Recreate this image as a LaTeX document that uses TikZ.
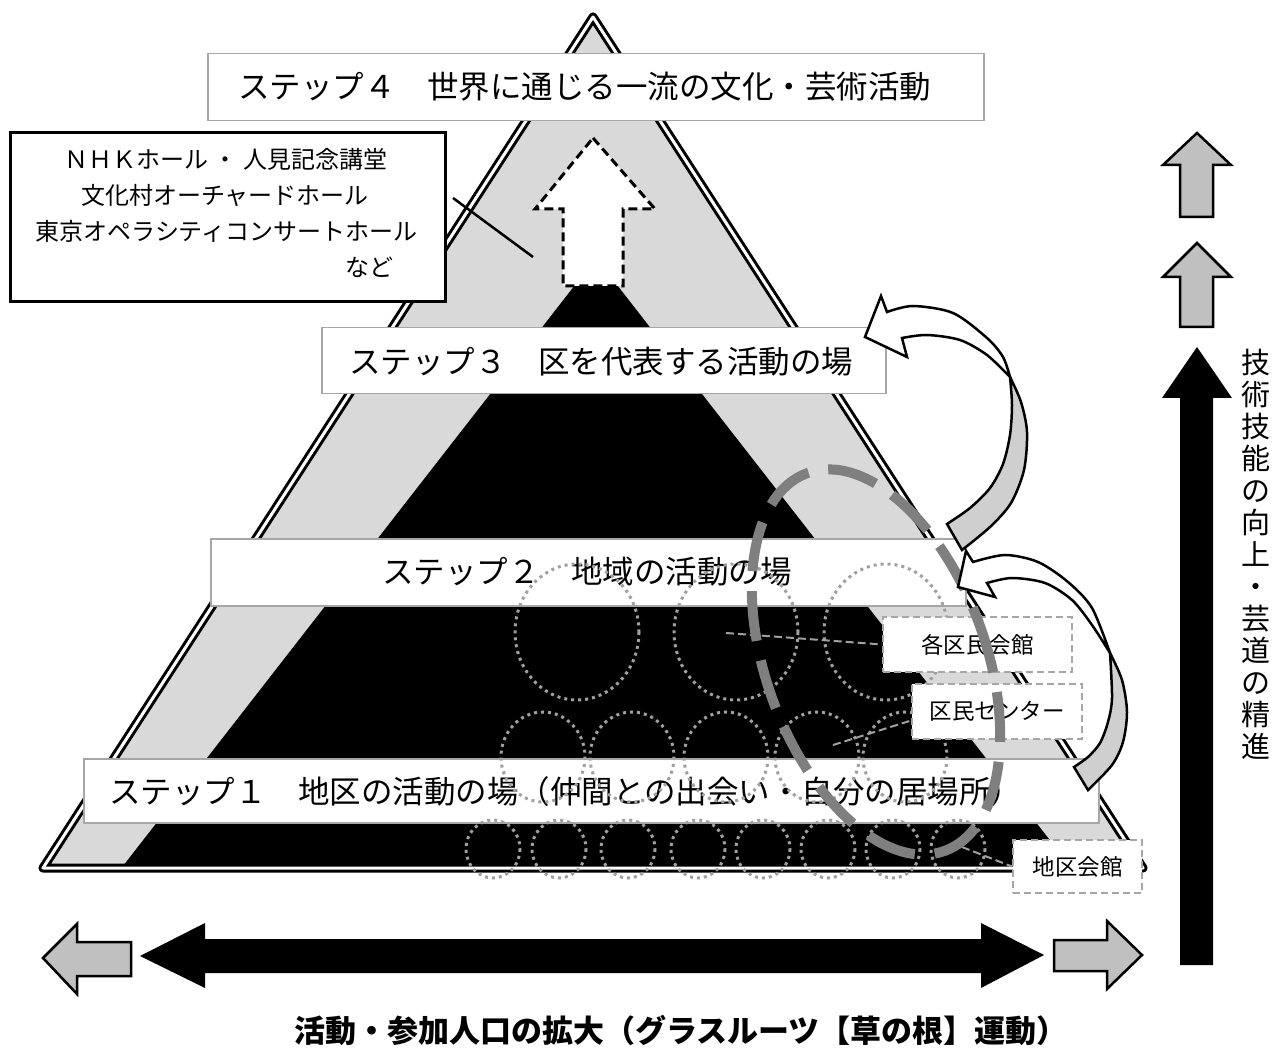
\documentclass[tikz,border=0pt]{standalone}
\usepackage{fontspec}
\setmainfont{Noto Sans CJK JP}
\definecolor{trigray}{HTML}{D9D9D9}
\definecolor{boxgray}{HTML}{A6A6A6}
\definecolor{arrgray}{HTML}{C0C0C0}
\definecolor{ellgray}{HTML}{7F7F7F}
\definecolor{dotgray}{HTML}{A0A0A0}
\definecolor{curvgray}{HTML}{CFCFCF}
\begin{document}
\begin{tikzpicture}[x=1pt,y=-1pt,
  stepbox/.style={draw=boxgray, line width=1.5pt, fill=white, inner sep=0pt},
  steptext/.style={inner sep=0pt, anchor=west, font=\fontsize{31.5}{36}\selectfont, text height=27.5pt, text depth=4pt},
  dotc/.style={draw=dotgray, line width=3pt, dash pattern=on 3pt off 4pt},
  lblbox/.style={draw=boxgray, line width=2pt, dash pattern=on 7pt off 4pt, fill=white, font=\fontsize{22.5}{26}\selectfont, inner sep=0pt},
  ptr/.style={draw=dotgray, line width=2pt, dash pattern=on 8pt off 4pt},
  curvarr/.style={draw=black, line width=2.5pt, line join=miter},
  blockarr/.style={draw=black, line width=2.5pt, fill=arrgray, line join=miter},
  nhkt/.style={inner sep=0pt, font=\fontsize{24}{28}\selectfont, text height=21pt, text depth=3pt}
]
\useasboundingbox (0,0) rectangle (1286,1048);
\fill[white] (0,0) rectangle (1286,1048);

% pyramid
\coordinate (apex) at (593,17);
\coordinate (bl) at (43,868);
\coordinate (br) at (1143,868);
\fill[trigray] (apex) -- (bl) -- (br) -- cycle;
\fill[black] (596,258) -- (123,866) -- (1070,866) -- cycle;
\draw[line width=9pt, line join=round] (apex) -- (bl) -- (br) -- cycle;
\draw[white, line width=3pt, line join=round] (apex) -- (bl) -- (br) -- cycle;

% dashed white arrow
\draw[fill=white, draw=black, line width=3pt, dash pattern=on 9pt off 5pt]
  (593,138) -- (655,209) -- (623,209) -- (623,286) -- (563,286) -- (563,209) -- (535,209) -- cycle;

% step boxes
\node[stepbox, anchor=north west, minimum width=776pt, minimum height=67pt] (s4box) at (207,53) {};
\node[steptext] (s4) at (238,87) {ステップ４　世界に通じる一流の文化・芸術活動};
\node[stepbox, anchor=north west, minimum width=564pt, minimum height=66pt] (s3box) at (321,327) {};
\node[steptext] (s3) at (349,362) {ステップ３　区を代表する活動の場};
\node[stepbox, anchor=north west, minimum width=755pt, minimum height=67pt] (s2box) at (210,538) {};
\node[steptext] (s2) at (382,572) {ステップ２　地域の活動の場};
\node[stepbox, anchor=north west, minimum width=1015pt, minimum height=64pt] (s1box) at (83,758) {};
\node[steptext] (s1) at (109,792) {ステップ１　地区の活動の場（仲間との出会い・自分の居場所）};

% dotted circles
\foreach \cx in {577,736,886} \draw[dotc] (\cx,632) ellipse [x radius=62, y radius=68];
\foreach \cx in {543,632,726,817,905} \draw[dotc] (\cx,757) ellipse [x radius=42, y radius=45];
\foreach \cx in {493,559,628,698,763,828,893,958} \draw[dotc] (\cx,849) ellipse [x radius=27, y radius=29];

% label boxes and pointer lines
\node[lblbox, minimum width=189pt, minimum height=55pt] (k1) at (977.5,644.5) {各区民会館};
\node[lblbox, minimum width=170pt, minimum height=55pt] (k2) at (997,711.5) {区民センター};
\node[lblbox, minimum width=129pt, minimum height=53pt] (k3) at (1077.5,866.5) {地区会館};
\coordinate (q1) at (726,633);
\coordinate (q2) at (833,745);
\coordinate (q3) at (962,847);
\draw[ptr] (q1) -- (k1.west);
\draw[ptr] (q2) -- (k2.186);
\draw[ptr] (q3) -- (k3.west);

% gray dashed ellipse
\draw[ellgray, line width=10pt, dash pattern=on 50pt off 20pt, rotate around={20:(876,662)}]
  (876,662) ellipse [x radius=110, y radius=201];

% curved arrow (upper)
\draw[curvarr, fill=white] (887,312) -- (881,296) -- (865,337) -- (907,357) -- (902,338)
  -- plot[smooth] coordinates {(902,338) (927,335) (960,340) (987,355) (1010,377)}
  -- plot[smooth] coordinates {(1010,377) (1003,357) (987,338) (953,313) (913,306) (887,312)} -- cycle;
\draw[curvarr, fill=curvgray]
  plot[smooth] coordinates {(1010,377) (1021,402) (1027,432) (1024,470) (1011,503) (990,527) (962,550)}
  -- (947,524)
  -- plot[smooth] coordinates {(947,524) (970,508) (990,488) (1003,464) (1010,435) (1012,405) (1010,377)} -- cycle;

% curved arrow (lower)
\draw[curvarr, fill=white] (973,562) -- (966,551) -- (958,587) -- (995,597) -- (987,583)
  -- plot[smooth] coordinates {(987,583) (1012,578) (1045,583) (1072,600) (1092,625) (1110,653)}
  -- plot[smooth] coordinates {(1110,653) (1092,608) (1068,582) (1038,562) (1005,555) (973,562)} -- cycle;
\draw[curvarr, fill=curvgray]
  plot[smooth] coordinates {(1110,653) (1122,680) (1127,712) (1123,742) (1112,765) (1088,790)}
  -- (1074,767)
  -- plot[smooth] coordinates {(1074,767) (1088,757) (1100,743) (1108,722) (1112,698) (1110,653)} -- cycle;

% NHK box
\node[draw=black, line width=3pt, fill=white, minimum width=435pt, minimum height=169pt, inner sep=0pt] (nhk) at (227.5,217.5) {};
\node[nhkt] (n1) at (226,160) {ＮＨＫホール ・ 人見記念講堂};
\node[nhkt] (n2) at (225,196) {文化村オーチャードホール};
\node[nhkt] (n3) at (226.5,232) {東京オペラシティコンサートホール};
\node[nhkt] (n4) at (369,268) {など};
\coordinate (nl1) at (453,198);
\coordinate (nl2) at (533,257);
\draw[line width=2.5pt] (nl1) -- (nl2);

% right arrows
\draw[blockarr] (1197,133) -- (1231,165) -- (1213,165) -- (1213,217) -- (1180,217) -- (1180,165) -- (1163,165) -- cycle;
\draw[blockarr] (1197,243) -- (1231,277) -- (1213,277) -- (1213,327) -- (1180,327) -- (1180,277) -- (1163,277) -- cycle;
\fill[black] (1197,347) -- (1232,398) -- (1213,398) -- (1213,965) -- (1180,965) -- (1180,398) -- (1162,398) -- cycle;
\node[inner sep=0pt, align=center, font=\fontsize{29}{32}\selectfont] (vt) at (1256,554)
  {技\\術\\技\\能\\の\\向\\上\\・\\芸\\道\\の\\精\\進};

% bottom arrows
\fill[black] (140,956) -- (205,923) -- (205,939) -- (981,939) -- (981,923) -- (1044,955) -- (981,988) -- (981,973) -- (205,973) -- (205,988) -- cycle;
\draw[blockarr] (43,958) -- (77,924) -- (77,942) -- (131,942) -- (131,976) -- (77,976) -- (77,994) -- cycle;
\draw[blockarr] (1142,955) -- (1107,921) -- (1107,940) -- (1054,940) -- (1054,971) -- (1107,971) -- (1107,989) -- cycle;
\node[inner sep=0pt, anchor=west, font=\bfseries\fontsize{31}{36}\selectfont] (bt) at (294,1030)
  {活動・参加人口の拡大（グラスルーツ【草の根】運動）};
\end{tikzpicture}
\end{document}
